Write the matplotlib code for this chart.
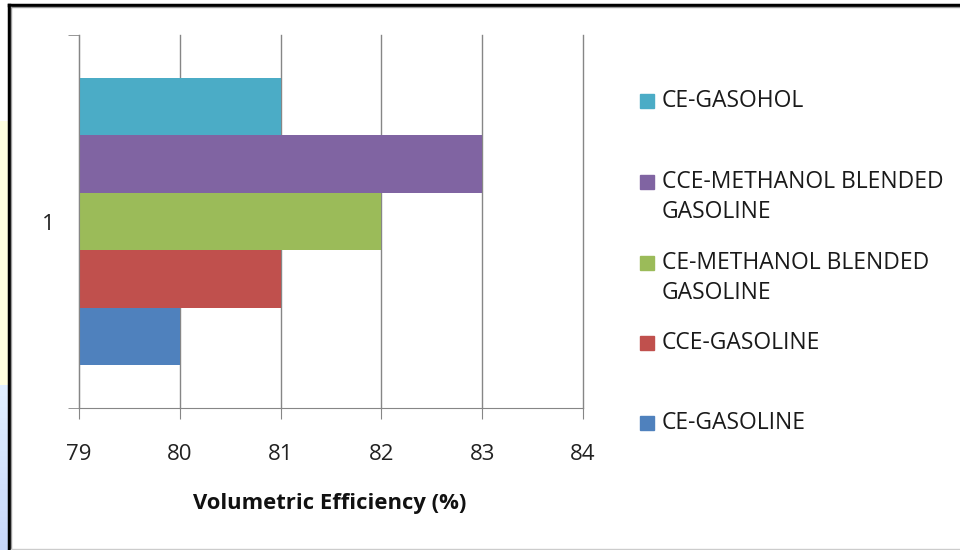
import numpy as np
import matplotlib.pyplot as plt
from matplotlib.lines import Line2D
from matplotlib.patches import Rectangle

plt.rcParams['font.family'] = ['Open Sans', 'DejaVu Sans']

# data
category = ['1']
series = ['CE-GASOLINE', 'CCE-GASOLINE', 'CE-METHANOL BLENDED GASOLINE',
          'CCE-METHANOL BLENDED GASOLINE', 'CE-GASOHOL']
values = [80, 81, 82, 83, 81]
colors = ['#4F81BD', '#C0504D', '#9BBB59', '#8064A2', '#4BACC6']
xticks = [79, 80, 81, 82, 83, 84]

W, H = 960, 550
fig = plt.figure(figsize=(W / 100, H / 100), dpi=100)

# slide background strip on the left edge
bg = fig.add_axes([0, 0, 9 / W, 1])
blue = np.linspace([0.88, 0.94, 1.0], [0.78, 0.84, 0.98], 30)
grad = np.vstack([np.ones((22, 3)), np.tile([1.0, 1.0, 0.88], (48, 1)), blue])
bg.imshow(grad[:, None, :], aspect='auto', extent=[0, 1, 0, 1])
bg.axis('off')

# chart frame
fig.add_artist(Line2D([9 / W, 1], [1 - 5 / H] * 2, color='black', lw=2.5, transform=fig.transFigure))
fig.add_artist(Line2D([9 / W, 1], [1 - 7 / H] * 2, color='#999999', lw=1, transform=fig.transFigure))
fig.add_artist(Line2D([9 / W] * 2, [0, 1 - 5 / H], color='black', lw=2.5, transform=fig.transFigure))
fig.add_artist(Line2D([11 / W] * 2, [0, 1 - 7 / H], color='#999999', lw=1, transform=fig.transFigure))
fig.add_artist(Line2D([11 / W, 1], [1.5 / H] * 2, color='#cccccc', lw=1, transform=fig.transFigure))

ax = fig.add_axes([79 / W, 1 - 408 / H, 504 / W, 373 / H])
n = len(series)
h = 1 / (n + 1.5)
base = -n * h / 2
for i, (v, c) in enumerate(zip(values, colors)):
    ax.barh(base + h * (i + 0.5), v, height=h, color=c, linewidth=0, zorder=3)

ax.set_xlim(xticks[0], xticks[-1])
ax.set_ylim(-0.5, 0.5)
ax.set_xticks(xticks)
ax.set_xticklabels([str(t) for t in xticks], fontsize=16, color='#222222')
ax.set_yticks([0])
ax.set_yticklabels(category, fontsize=16, color='#222222')
ax.set_yticks([-0.5, 0.5], minor=True)
ax.tick_params(axis='y', which='major', length=0, pad=17.5)
ax.tick_params(axis='y', which='minor', length=8, color='#868686', direction='out')
ax.tick_params(axis='x', length=8, color='#868686', direction='out', pad=18)
ax.grid(axis='x', color='#868686', lw=1, zorder=0)
for gl in ax.get_xgridlines():
    gl.set_clip_on(False)
for s in ['top', 'right']:
    ax.spines[s].set_visible(False)
for s in ['left', 'bottom']:
    ax.spines[s].set_color('#868686')
    ax.spines[s].set_zorder(4)

fig.text(330 / W, 1 - 504 / H, 'Volumetric Efficiency (%)', fontsize=15.8,
         fontweight='bold', ha='center', va='center', color='#111111')

# legend, top entry is the last series
legend_y = [423, 343, 278, 197, 101]
for name, c, y in zip(series, colors, legend_y):
    first = y if 'BLENDED' not in name else y - 15
    fig.patches.append(Rectangle((640 / W, 1 - (first + 7) / H), 14 / W, 14 / H,
                                 color=c, transform=fig.transFigure))
    fig.text(662 / W, 1 - y / H, name.replace('BLENDED ', 'BLENDED\n'),
             fontsize=16.5, ha='left', va='center', color='#1a1a1a', linespacing=1.3)

fig.savefig('out.png', dpi=100)
